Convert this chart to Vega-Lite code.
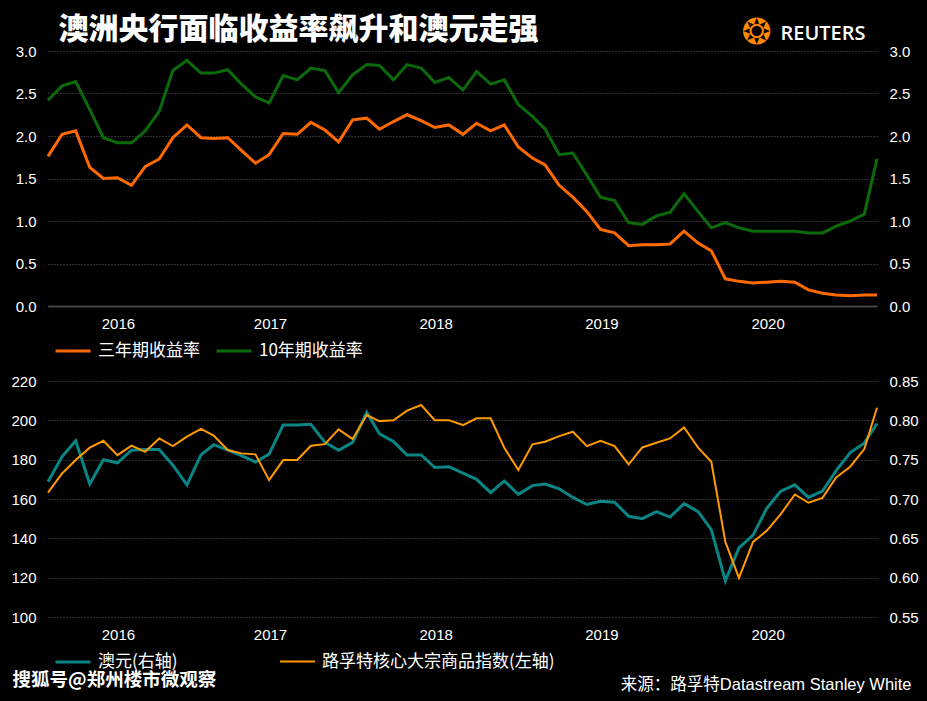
{
  "$schema": "https://vega.github.io/schema/vega-lite/v6.json",
  "background": "#000000",
  "padding": {"left": 10, "top": 14, "right": 8, "bottom": 9},
  "spacing": 43,
  "config": {
    "view": {"stroke": null},
    "axis": {
      "labelColor": "#ffffff",
      "labelFont": "Liberation Sans",
      "labelFontSize": 15,
      "ticks": false,
      "domain": false,
      "grid": false,
      "titleColor": "#ffffff"
    },
    "legend": {
      "labelColor": "#ffffff",
      "labelFont": "Noto Sans CJK SC",
      "labelFontSize": 17,
      "labelLimit": 400,
      "symbolType": "stroke",
      "symbolSize": 1225,
      "symbolStrokeWidth": 3,
      "labelOffset": 6,
      "columnPadding": 10,
      "direction": "horizontal",
      "orient": "none",
      "title": null
    }
  },
  "datasets": {
    "d": [
      {"date": "2016-02-29", "y3": 1.76, "y10": 2.42, "aud": 0.722, "crb": 163.2},
      {"date": "2016-03-31", "y3": 2.02, "y10": 2.59, "aud": 0.754, "crb": 173.0},
      {"date": "2016-04-30", "y3": 2.06, "y10": 2.64, "aud": 0.774, "crb": 179.8},
      {"date": "2016-05-31", "y3": 1.63, "y10": 2.31, "aud": 0.719, "crb": 186.1},
      {"date": "2016-06-30", "y3": 1.50, "y10": 1.98, "aud": 0.750, "crb": 189.6},
      {"date": "2016-07-31", "y3": 1.51, "y10": 1.92, "aud": 0.746, "crb": 182.3},
      {"date": "2016-08-31", "y3": 1.42, "y10": 1.92, "aud": 0.762, "crb": 187.1},
      {"date": "2016-09-30", "y3": 1.64, "y10": 2.06, "aud": 0.763, "crb": 184.0},
      {"date": "2016-10-31", "y3": 1.73, "y10": 2.29, "aud": 0.763, "crb": 190.8},
      {"date": "2016-11-30", "y3": 1.98, "y10": 2.77, "aud": 0.743, "crb": 186.9},
      {"date": "2016-12-31", "y3": 2.13, "y10": 2.89, "aud": 0.718, "crb": 191.7},
      {"date": "2017-01-31", "y3": 1.98, "y10": 2.74, "aud": 0.756, "crb": 195.6},
      {"date": "2017-02-28", "y3": 1.97, "y10": 2.74, "aud": 0.769, "crb": 192.2},
      {"date": "2017-03-31", "y3": 1.98, "y10": 2.78, "aud": 0.762, "crb": 184.9},
      {"date": "2017-04-30", "y3": 1.83, "y10": 2.61, "aud": 0.755, "crb": 183.2},
      {"date": "2017-05-31", "y3": 1.68, "y10": 2.46, "aud": 0.747, "crb": 182.7},
      {"date": "2017-06-30", "y3": 1.78, "y10": 2.39, "aud": 0.757, "crb": 169.6},
      {"date": "2017-07-31", "y3": 2.03, "y10": 2.71, "aud": 0.794, "crb": 179.8},
      {"date": "2017-08-31", "y3": 2.02, "y10": 2.66, "aud": 0.794, "crb": 179.8},
      {"date": "2017-09-30", "y3": 2.16, "y10": 2.80, "aud": 0.795, "crb": 187.1},
      {"date": "2017-10-31", "y3": 2.07, "y10": 2.77, "aud": 0.772, "crb": 187.9},
      {"date": "2017-11-30", "y3": 1.93, "y10": 2.51, "aud": 0.762, "crb": 195.4},
      {"date": "2017-12-31", "y3": 2.19, "y10": 2.72, "aud": 0.772, "crb": 190.5},
      {"date": "2018-01-31", "y3": 2.21, "y10": 2.84, "aud": 0.810, "crb": 202.7},
      {"date": "2018-02-28", "y3": 2.08, "y10": 2.83, "aud": 0.783, "crb": 199.6},
      {"date": "2018-03-31", "y3": 2.17, "y10": 2.66, "aud": 0.773, "crb": 200.0},
      {"date": "2018-04-30", "y3": 2.25, "y10": 2.84, "aud": 0.756, "crb": 204.9},
      {"date": "2018-05-31", "y3": 2.18, "y10": 2.80, "aud": 0.756, "crb": 207.8},
      {"date": "2018-06-30", "y3": 2.10, "y10": 2.63, "aud": 0.740, "crb": 200.1},
      {"date": "2018-07-31", "y3": 2.13, "y10": 2.69, "aud": 0.741, "crb": 200.1},
      {"date": "2018-08-31", "y3": 2.02, "y10": 2.54, "aud": 0.733, "crb": 197.6},
      {"date": "2018-09-30", "y3": 2.15, "y10": 2.76, "aud": 0.725, "crb": 201.0},
      {"date": "2018-10-31", "y3": 2.06, "y10": 2.61, "aud": 0.708, "crb": 201.0},
      {"date": "2018-11-30", "y3": 2.13, "y10": 2.66, "aud": 0.723, "crb": 186.1},
      {"date": "2018-12-31", "y3": 1.87, "y10": 2.37, "aud": 0.706, "crb": 174.7},
      {"date": "2019-01-31", "y3": 1.74, "y10": 2.23, "aud": 0.717, "crb": 187.8},
      {"date": "2019-02-28", "y3": 1.66, "y10": 2.08, "aud": 0.719, "crb": 189.1},
      {"date": "2019-03-31", "y3": 1.42, "y10": 1.78, "aud": 0.713, "crb": 192.0},
      {"date": "2019-04-30", "y3": 1.28, "y10": 1.80, "aud": 0.702, "crb": 194.2},
      {"date": "2019-05-31", "y3": 1.11, "y10": 1.54, "aud": 0.693, "crb": 186.9},
      {"date": "2019-06-30", "y3": 0.90, "y10": 1.28, "aud": 0.697, "crb": 189.6},
      {"date": "2019-07-31", "y3": 0.86, "y10": 1.24, "aud": 0.696, "crb": 186.9},
      {"date": "2019-08-31", "y3": 0.71, "y10": 0.98, "aud": 0.678, "crb": 177.6},
      {"date": "2019-09-30", "y3": 0.72, "y10": 0.96, "aud": 0.675, "crb": 186.2},
      {"date": "2019-10-31", "y3": 0.72, "y10": 1.06, "aud": 0.684, "crb": 188.6},
      {"date": "2019-11-30", "y3": 0.73, "y10": 1.10, "aud": 0.677, "crb": 190.8},
      {"date": "2019-12-31", "y3": 0.88, "y10": 1.32, "aud": 0.694, "crb": 196.4},
      {"date": "2020-01-31", "y3": 0.74, "y10": 1.11, "aud": 0.684, "crb": 186.1},
      {"date": "2020-02-29", "y3": 0.65, "y10": 0.92, "aud": 0.661, "crb": 178.9},
      {"date": "2020-03-31", "y3": 0.32, "y10": 0.98, "aud": 0.596, "crb": 138.2},
      {"date": "2020-04-30", "y3": 0.29, "y10": 0.92, "aud": 0.638, "crb": 119.9},
      {"date": "2020-05-31", "y3": 0.27, "y10": 0.88, "aud": 0.654, "crb": 138.2},
      {"date": "2020-06-30", "y3": 0.28, "y10": 0.88, "aud": 0.688, "crb": 143.8},
      {"date": "2020-07-31", "y3": 0.29, "y10": 0.88, "aud": 0.710, "crb": 152.3},
      {"date": "2020-08-31", "y3": 0.28, "y10": 0.88, "aud": 0.718, "crb": 162.3},
      {"date": "2020-09-30", "y3": 0.19, "y10": 0.86, "aud": 0.702, "crb": 158.1},
      {"date": "2020-10-31", "y3": 0.15, "y10": 0.86, "aud": 0.710, "crb": 160.6},
      {"date": "2020-11-30", "y3": 0.13, "y10": 0.94, "aud": 0.736, "crb": 171.0},
      {"date": "2020-12-31", "y3": 0.12, "y10": 1.00, "aud": 0.759, "crb": 176.4},
      {"date": "2021-01-31", "y3": 0.13, "y10": 1.08, "aud": 0.771, "crb": 185.4},
      {"date": "2021-02-28", "y3": 0.13, "y10": 1.73, "aud": 0.796, "crb": 206.4}
    ]
  },
  "vconcat": [
    {
      "width": 829,
      "height": 255,
      "data": {"name": "d"},
      "encoding": {
        "x": {
          "field": "date",
          "type": "temporal",
          "scale": {"type": "utc", "nice": false},
          "axis": {
            "values": [
              {"year": 2016, "month": 8, "date": 1, "utc": true},
              {"year": 2017, "month": 7, "date": 2, "utc": true},
              {"year": 2018, "month": 7, "date": 2, "utc": true},
              {"year": 2019, "month": 7, "date": 2, "utc": true},
              {"year": 2020, "month": 7, "date": 2, "utc": true}
            ],
            "labelExpr": "utcFormat(datum.value, '%Y')",
            "labelPadding": 10,
            "labelFlush": false,
            "labelOverlap": false,
            "domain": true,
            "domainColor": "#444444",
            "domainWidth": 2,
            "title": "❂",
            "titleFont": "DejaVu Sans",
            "titleFontSize": 36,
            "titleFontWeight": "normal",
            "titleColor": "#ff8a00",
            "titleAngle": 0,
            "titleAlign": "center",
            "titleBaseline": "middle",
            "titleX": 708,
            "titleY": -274
          }
        }
      },
      "layer": [
        {
          "mark": {"type": "line", "strokeWidth": 3},
          "encoding": {
            "y": {
              "field": "y3",
              "type": "quantitative",
              "scale": {"domain": [0, 3], "nice": false, "zero": false},
              "axis": {
                "orient": "left",
                "values": [0, 0.5, 1, 1.5, 2, 2.5, 3],
                "format": ".1f",
                "labelPadding": 12,
                "grid": true,
                "gridColor": "#5c5c5c",
                "gridDash": [1, 2],
                "gridWidth": 1,
                "title": "澳洲央行面临收益率飙升和澳元走强",
                "titleFont": "Noto Sans CJK SC",
                "titleFontSize": 30,
                "titleFontWeight": 900,
                "titleColor": "#ffffff",
                "titleAngle": 0,
                "titleAlign": "left",
                "titleBaseline": "middle",
                "titleLimit": 1000,
                "titleX": 10,
                "titleY": -22
              }
            },
            "color": {
              "datum": "三年期收益率",
              "type": "nominal",
              "scale": {"domain": ["三年期收益率", "10年期收益率"], "range": ["#ff6a00", "#0b6b0b"]},
              "legend": {"legendX": 6, "legendY": 281}
            }
          }
        },
        {
          "mark": {"type": "line", "strokeWidth": 3},
          "encoding": {
            "y": {
              "field": "y10",
              "type": "quantitative",
              "scale": {"domain": [0, 3], "nice": false, "zero": false},
              "axis": {
                "orient": "right",
                "values": [0, 0.5, 1, 1.5, 2, 2.5, 3],
                "format": ".1f",
                "labelPadding": 12,
                "grid": false,
                "title": "REUTERS",
                "titleFont": "Open Sans",
                "titleFontSize": 20,
                "titleFontWeight": 600,
                "titleColor": "#ffffff",
                "titleAngle": 0,
                "titleAlign": "left",
                "titleBaseline": "middle",
                "titleLimit": 500,
                "titleX": -97,
                "titleY": -18
              }
            },
            "color": {"datum": "10年期收益率", "type": "nominal"}
          }
        }
      ],
      "resolve": {"scale": {"y": "independent"}}
    },
    {
      "width": 829,
      "height": 236,
      "data": {"name": "d"},
      "encoding": {
        "x": {
          "field": "date",
          "type": "temporal",
          "scale": {"type": "utc", "nice": false},
          "axis": {
            "values": [
              {"year": 2016, "month": 8, "date": 1, "utc": true},
              {"year": 2017, "month": 7, "date": 2, "utc": true},
              {"year": 2018, "month": 7, "date": 2, "utc": true},
              {"year": 2019, "month": 7, "date": 2, "utc": true},
              {"year": 2020, "month": 7, "date": 2, "utc": true}
            ],
            "labelExpr": "utcFormat(datum.value, '%Y')",
            "labelPadding": 10,
            "labelFlush": false,
            "labelOverlap": false,
            "domain": false,
            "title": null
          }
        }
      },
      "layer": [
        {
          "mark": {"type": "line", "strokeWidth": 3},
          "encoding": {
            "y": {
              "field": "aud",
              "type": "quantitative",
              "scale": {"domain": [0.55, 0.85], "nice": false, "zero": false},
              "axis": {
                "orient": "right",
                "values": [0.55, 0.6, 0.65, 0.7, 0.75, 0.8, 0.85],
                "format": ".2f",
                "labelPadding": 12,
                "grid": false,
                "title": "来源：路孚特Datastream Stanley White",
                "titleFont": "Liberation Sans, Noto Sans CJK SC",
                "titleFontSize": 16.5,
                "titleFontWeight": "normal",
                "titleColor": "#ffffff",
                "titleAngle": 0,
                "titleAlign": "right",
                "titleBaseline": "middle",
                "titleLimit": 600,
                "titleX": 34,
                "titleY": 303
              }
            },
            "color": {
              "datum": "澳元(右轴)",
              "type": "nominal",
              "scale": {"domain": ["澳元(右轴)"], "range": ["#0a8585"]},
              "legend": {"legendX": 6, "legendY": 262}
            }
          }
        },
        {
          "mark": {"type": "line", "strokeWidth": 2},
          "encoding": {
            "y": {
              "field": "crb",
              "type": "quantitative",
              "scale": {"domain": [100, 220], "nice": false, "zero": false},
              "axis": {
                "orient": "left",
                "values": [100, 120, 140, 160, 180, 200, 220],
                "labelPadding": 12,
                "grid": true,
                "gridColor": "#5c5c5c",
                "gridDash": [1, 2],
                "gridWidth": 1,
                "title": "搜狐号@郑州楼市微观察",
                "titleFont": "Noto Sans CJK SC",
                "titleFontSize": 18.5,
                "titleFontWeight": "bold",
                "titleColor": "#ffffff",
                "titleAngle": 0,
                "titleAlign": "left",
                "titleBaseline": "middle",
                "titleLimit": 600,
                "titleX": -36,
                "titleY": 298
              }
            },
            "color": {
              "datum": "路孚特核心大宗商品指数(左轴)",
              "type": "nominal",
              "scale": {"domain": ["路孚特核心大宗商品指数(左轴)"], "range": ["#ff9a00"]},
              "legend": {"legendX": 231, "legendY": 262, "symbolStrokeWidth": 2}
            }
          }
        }
      ],
      "resolve": {"scale": {"y": "independent", "color": "independent"}}
    }
  ]
}
